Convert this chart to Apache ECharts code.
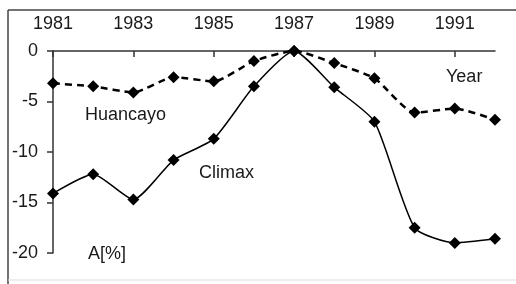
<!DOCTYPE html>
<html>
<head>
<meta charset="utf-8">
<script src="https://cdn.jsdelivr.net/npm/echarts@6/dist/echarts.min.js"></script>
<style>
  html, body { margin: 0; padding: 0; background: #fff; }
  #main { width: 516px; height: 284px; }
</style>
</head>
<body>
<div id="main"></div>
<script>
// years along the top axis
var years = ['1981', '1982', '1983', '1984', '1985', '1986', '1987', '1988', '1989', '1990', '1991', '1992'];
// A[%] per station
var huancayo = [-3.2, -3.5, -4.1, -2.6, -3.0, -1.0, 0, -1.2, -2.7, -6.1, -5.7, -6.8];
var climax = [-14.1, -12.2, -14.7, -10.8, -8.7, -3.5, 0, -3.6, -7.0, -17.5, -19.0, -18.6];

var font = 'Liberation Sans, Arial, sans-serif';
var ink = '#1a1a1a';

var myChart = echarts.init(document.getElementById('main'));
myChart.setOption({
  animation: false,
  backgroundColor: '#fff',
  grid: { left: 53, right: 21, top: 51, bottom: 31 },
  xAxis: {
    type: 'category',
    position: 'top',
    boundaryGap: false,
    data: years,
    axisLine: { lineStyle: { color: '#333', width: 1.5 } },
    axisTick: { inside: true, length: 6, interval: 1, lineStyle: { color: '#333', width: 1.5 } },
    axisLabel: { interval: 1, margin: 18, color: ink, fontSize: 18, fontFamily: font },
    splitLine: { show: false }
  },
  yAxis: {
    type: 'value',
    min: -20,
    max: 0,
    interval: 5,
    axisLine: { show: true, lineStyle: { color: '#333', width: 1.5 } },
    axisTick: { show: true, length: 6, lineStyle: { color: '#333', width: 1.5 } },
    axisLabel: { margin: 15, color: ink, fontSize: 18, fontFamily: font },
    splitLine: { show: false }
  },
  graphic: [
    // frame: dark top and left, faint bottom
    { type: 'line', shape: { x1: 8, y1: 10, x2: 516, y2: 10 }, style: { stroke: '#444', lineWidth: 1.5 } },
    { type: 'line', shape: { x1: 8, y1: 10, x2: 8, y2: 284 }, style: { stroke: '#444', lineWidth: 1.5 } },
    { type: 'line', shape: { x1: 8, y1: 280, x2: 516, y2: 280 }, style: { stroke: '#ddd', lineWidth: 1 } },
    { type: 'text', left: 85, top: 106, style: { text: 'Huancayo', font: '18px ' + font, fill: ink } },
    { type: 'text', left: 199, top: 164, style: { text: 'Climax', font: '18px ' + font, fill: ink } },
    { type: 'text', left: 88, top: 245, style: { text: 'A[%]', font: '18px ' + font, fill: ink } },
    { type: 'text', left: 446, top: 68, style: { text: 'Year', font: '18px ' + font, fill: ink } }
  ],
  series: [
    {
      name: 'Huancayo',
      type: 'line',
      data: huancayo,
      symbol: 'diamond',
      symbolSize: 12,
      smooth: 0.2,
      lineStyle: { color: '#000', width: 2.5, type: [7, 5] },
      itemStyle: { color: '#000' }
    },
    {
      name: 'Climax',
      type: 'line',
      data: climax,
      symbol: 'diamond',
      symbolSize: 12,
      smooth: 0.2,
      lineStyle: { color: '#000', width: 1.5 },
      itemStyle: { color: '#000' }
    }
  ]
});
</script>
</body>
</html>
